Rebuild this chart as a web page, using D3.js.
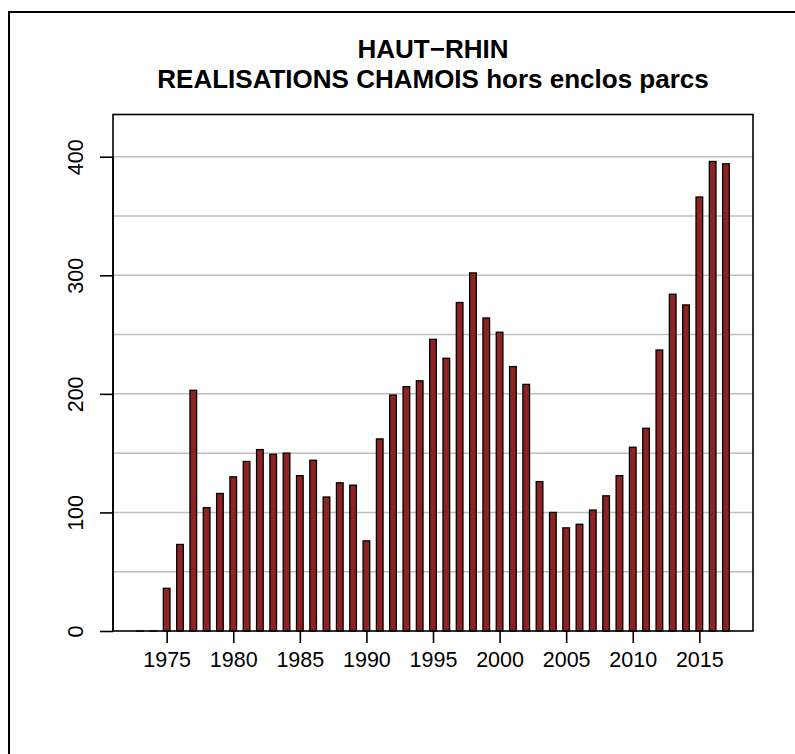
<!DOCTYPE html>
<html>
<head>
<meta charset="utf-8">
<script src="https://cdn.jsdelivr.net/npm/d3@7"></script>
<style>
  html, body { margin: 0; padding: 0; background: #fff; }
  svg { display: block; }
  text { font-family: "Liberation Sans", Arial, Helvetica, sans-serif; fill: #000; }
</style>
</head>
<body>
<svg id="chart" width="795" height="754"></svg>
<script>
const titleLines = ["HAUT\u2212RHIN", "REALISATIONS CHAMOIS hors enclos parcs"];
const years = [1973,1974,1975,1976,1977,1978,1979,1980,1981,1982,1983,1984,1985,1986,1987,1988,1989,1990,
  1991,1992,1993,1994,1995,1996,1997,1998,1999,2000,2001,2002,2003,2004,2005,2006,2007,2008,2009,2010,
  2011,2012,2013,2014,2015,2016,2017];
const values = [0,0,36,73,203,104,116,130,143,153,149,150,131,144,113,125,123,76,
  162,199,206,211,246,230,277,302,264,252,223,208,126,100,87,90,102,114,131,155,
  171,237,284,275,366,396,394];
const xTickLabels = [1975,1980,1985,1990,1995,2000,2005,2010,2015];
const yTickLabels = [0,100,200,300,400];
const gridValues = [50,100,150,200,250,300,350,400];

const svg = d3.select("#chart");
const box = {left: 113, right: 753, top: 114.5, bottom: 631};

// outer frame
svg.append("rect")
  .attr("x", 9).attr("y", 12).attr("width", 800).attr("height", 800)
  .attr("fill", "none").attr("stroke", "#000").attr("stroke-width", 2);

const pad = 2.03;
const x = d3.scaleLinear()
  .domain([d3.min(years) - pad, d3.max(years) + pad])
  .range([box.left, box.right]);
const y = d3.scaleLinear()
  .domain([0, d3.max(values) * 1.1])
  .range([box.bottom, box.top]);

// grid
svg.append("g").selectAll("line").data(gridValues).join("line")
  .attr("x1", box.left).attr("x2", box.right)
  .attr("y1", d => y(d)).attr("y2", d => y(d))
  .attr("stroke", "#bebebe").attr("stroke-width", 1.5);

// bars
const barW = x(0.5) - x(0);
svg.append("g").selectAll("rect").data(years).join("rect")
  .attr("x", (d) => x(d) - barW / 2)
  .attr("width", barW)
  .attr("y", (d, i) => y(values[i]))
  .attr("height", (d, i) => Math.max(0.01, y(0) - y(values[i])))
  .attr("fill", "#8E2323")
  .attr("stroke", "#000")
  .attr("stroke-width", 1.3);

// box
svg.append("rect")
  .attr("x", box.left).attr("y", box.top)
  .attr("width", box.right - box.left).attr("height", box.bottom - box.top)
  .attr("fill", "none").attr("stroke", "#000").attr("stroke-width", 1.6);

// x axis
const xAxis = d3.axisBottom(x).tickValues(xTickLabels).tickFormat(d3.format("d"))
  .tickSize(12).tickPadding(9);
const gx = svg.append("g").attr("transform", `translate(0,${box.bottom})`).call(xAxis);
gx.select(".domain").remove();
gx.selectAll("line").attr("stroke", "#000").attr("stroke-width", 1.6);
gx.selectAll("text").attr("font-size", 21.5).attr("font-family", "Liberation Sans, Arial, sans-serif").attr("fill", "#000");

// y axis
const yAxis = d3.axisLeft(y).tickValues(yTickLabels).tickFormat(d3.format("d")).tickSize(13).tickPadding(0);
const gy = svg.append("g").attr("transform", `translate(${box.left},0)`).call(yAxis);
gy.select(".domain").attr("d", `M0,${y(0)}V${y(400)}`).attr("stroke", "#000").attr("stroke-width", 1.6);
gy.selectAll("line").attr("stroke", "#000").attr("stroke-width", 1.6);
gy.selectAll(".tick text")
  .attr("x", 0).attr("y", 0).attr("dy", null)
  .attr("text-anchor", "middle")
  .attr("transform", "translate(-30,0) rotate(-90)")
  .attr("font-size", 21.5).attr("font-family", "Liberation Sans, Arial, sans-serif").attr("fill", "#000");

// title
const cx = (box.left + box.right) / 2;
svg.append("g").selectAll("text").data(titleLines).join("text")
  .attr("x", cx).attr("y", (d, i) => 58 + i * 30)
  .attr("text-anchor", "middle")
  .attr("font-weight", "bold").attr("font-size", 26)
  .text(d => d);
</script>
</body>
</html>
